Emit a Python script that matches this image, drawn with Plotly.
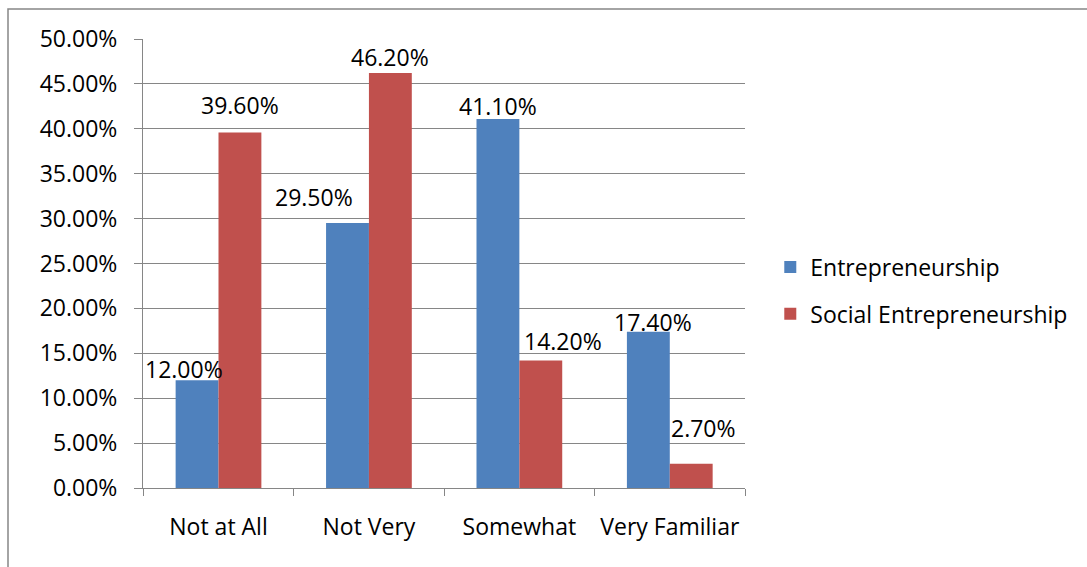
import plotly.graph_objects as go

categories = ["Not at All", "Not Very", "Somewhat", "Very Familiar"]
entrepreneurship = [0.120, 0.295, 0.411, 0.174]
social_entrepreneurship = [0.396, 0.462, 0.142, 0.027]
series_names = ["Entrepreneurship", "Social Entrepreneurship"]
y_ticks = [0.0, 0.05, 0.10, 0.15, 0.20, 0.25, 0.30, 0.35, 0.40, 0.45, 0.50]

# label placement tweaks (pixels), mimicking hand-placed data labels
ent_label_dx = [-13, -33, 0, 5]
ent_label_dy = [11, 26, 13, 10]
soc_label_dx = [0, 0, 22, 12]
soc_label_dy = [27, 16, 19, 36]

FONT = "Open Sans"
FS = 23
GRID = "#868686"
BAR_HALF = 21.5

fig = go.Figure()
fig.add_trace(go.Bar(x=categories, y=entrepreneurship, name=series_names[0],
                     marker=dict(color="#4F81BD", line=dict(width=0)), legendgroup="a"))
fig.add_trace(go.Bar(x=categories, y=social_entrepreneurship, name=series_names[1],
                     marker=dict(color="#C0504D", line=dict(width=0)), legendgroup="b"))

for vals, dxs, dys, side in [
    (entrepreneurship, ent_label_dx, ent_label_dy, -1),
    (social_entrepreneurship, soc_label_dx, soc_label_dy, 1),
]:
    for cat, v, dx, dy in zip(categories, vals, dxs, dys):
        fig.add_annotation(x=cat, y=v, xref="x", yref="y", text=f"{v*100:.2f}%",
                           showarrow=False, xanchor="center", yanchor="middle",
                           xshift=side * BAR_HALF + dx, yshift=dy,
                           font=dict(family=FONT, size=FS, color="black"))

fig.update_layout(
    width=1087, height=567,
    margin=dict(l=143, r=342, t=39, b=79),
    paper_bgcolor="white", plot_bgcolor="white",
    barmode="group", bargap=0.43, bargroupgap=0,
    font=dict(family=FONT, size=FS, color="black"),
    showlegend=True,
    legend=dict(x=1.042, y=0.44, xanchor="left", yanchor="middle",
                font=dict(family=FONT, size=FS, color="black"),
                tracegroupgap=14, traceorder="grouped",
                itemwidth=30, bgcolor="rgba(0,0,0,0)"),
)
fig.update_yaxes(range=[0, 0.5], tickvals=y_ticks, tickformat=".2%",
                 showgrid=True, gridcolor=GRID, gridwidth=1,
                 showline=True, linecolor=GRID, linewidth=1,
                 ticks="outside", ticklen=8, tickcolor=GRID, zeroline=False,
                 ticklabelstandoff=12,
                 tickfont=dict(family=FONT, size=FS, color="black"))
fig.update_xaxes(tickson="boundaries", ticks="outside", ticklen=7, tickcolor=GRID,
                 showline=True, linecolor=GRID, linewidth=1,
                 ticklabelstandoff=18,
                 tickfont=dict(family=FONT, size=FS, color="black"))

fig.add_shape(type="rect", xref="paper", yref="paper",
              x0=(8-143)/602, x1=(1100-143)/602, y0=(488-600)/449, y1=(488-9)/449,
              line=dict(color=GRID, width=1.5), fillcolor="rgba(0,0,0,0)", layer="below")

fig.write_html("out.html", config={"displayModeBar": False},
               post_script="document.body.style.margin='0';document.body.style.overflow='hidden';")
